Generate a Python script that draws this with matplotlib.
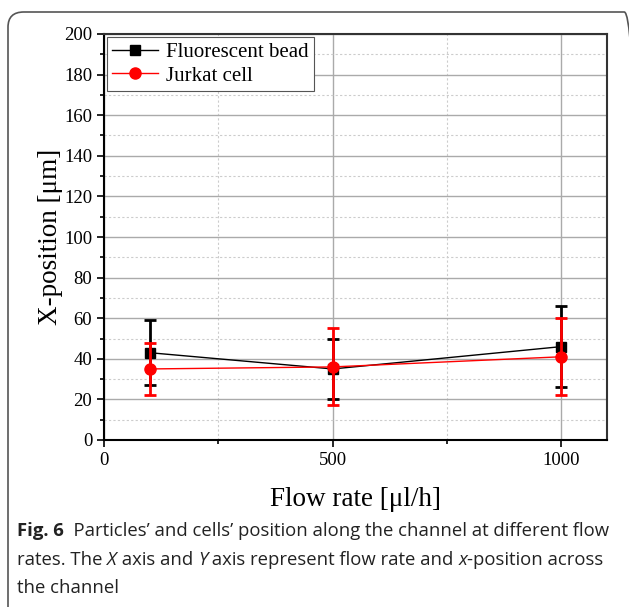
#!/usr/bin/env python3
# Particle / cell x-position vs flow rate, with figure caption
import matplotlib
matplotlib.use('Agg')
import matplotlib.pyplot as plt
import matplotlib.ticker
from matplotlib.patches import FancyBboxPatch

flow_rates = [100, 500, 1000]
bead_pos = [43, 35, 46]
bead_err = [16, 15, 20]
cell_pos = [35, 36, 41]
cell_err = [13, 19, 19]

SERIF = 'Liberation Serif'
SANS = 'Open Sans'

fig = plt.figure(figsize=(6.29, 6.07), dpi=100)
W, H = 629., 607.
ax = fig.add_axes([104 / W, 1 - 440 / H, (607 - 104) / W, (440 - 34) / H])

ax.errorbar(flow_rates, bead_pos, yerr=bead_err, color='black', marker='s', markersize=7,
            lw=1, elinewidth=2, capsize=4, capthick=2, zorder=3)
ax.errorbar(flow_rates, cell_pos, yerr=cell_err, color='red', marker='o', markersize=8,
            lw=1, elinewidth=2, capsize=4, capthick=2, zorder=4)
# legend handles without the error bars
ax.plot([], [], color='black', marker='s', markersize=7, lw=1, label='Fluorescent bead')
ax.plot([], [], color='red', marker='o', markersize=8, lw=1, label='Jurkat cell')

ax.set_xlim(0, 1100)
ax.set_ylim(0, 200)
ax.set_xticks([0, 500, 1000])
ax.set_yticks(range(0, 201, 20))
ax.xaxis.set_minor_locator(matplotlib.ticker.MultipleLocator(250))
ax.yaxis.set_minor_locator(matplotlib.ticker.MultipleLocator(10))
ax.tick_params(which='major', direction='out', length=5, width=1.2, labelsize=13.5)
ax.tick_params(which='minor', direction='out', length=3, width=1.2)
ax.grid(which='major', color='#aaaaaa', lw=1)
ax.grid(which='minor', color='#cccccc', lw=0.8, ls=(0, (2, 2)))
ax.set_axisbelow(True)
for lab in ax.get_xticklabels() + ax.get_yticklabels():
    lab.set_fontfamily(SERIF)
for s in ax.spines.values():
    s.set_linewidth(1.5)
ax.spines['right'].set_color('#333333')
ax.spines['top'].set_color('#333333')

ax.set_xlabel('Flow rate [μl/h]', fontfamily=SERIF, fontsize=19.5, labelpad=13)
ax.set_ylabel('X-position [μm]', fontfamily=SERIF, fontsize=19.5, labelpad=1)

leg = ax.legend(loc='upper left', prop={'family': SERIF, 'size': 15}, fancybox=False,
                framealpha=1, edgecolor='#555555', borderaxespad=0.15, handlelength=2.2,
                labelspacing=0.2, borderpad=0.25, handletextpad=0.4)
leg.get_frame().set_linewidth(0.8)

# rounded frame around the figure
box = FancyBboxPatch((8 / W, -0.1), (640 - 8) / W, 1.1 - 12 / H,
                     boxstyle='round,pad=0,rounding_size=0.025', transform=fig.transFigure,
                     fill=False, edgecolor='#555555', lw=1.2, clip_on=False)
fig.patches.append(box)

# caption, drawn piece by piece so bold / italic parts line up
fig.canvas.draw()
renderer = fig.canvas.get_renderer()
cap_size = 13.3
lines = [
    [('Fig. 6', 'bold', 'normal'), ('  Particles\u2019 and cells\u2019 position along the channel at different flow', 'normal', 'normal')],
    [('rates. The ', 'normal', 'normal'), ('X', 'normal', 'italic'), (' axis and ', 'normal', 'normal'),
     ('Y', 'normal', 'italic'), (' axis represent flow rate and ', 'normal', 'normal'),
     ('x', 'normal', 'italic'), ('-position across', 'normal', 'normal')],
    [('the channel', 'normal', 'normal')],
]
y_rows = [531, 560, 588]
for row, yp in zip(lines, y_rows):
    x = 17.
    for txt, weight, style in row:
        t = fig.text(x / W, 1 - yp / H, txt, fontfamily=SANS, fontsize=cap_size,
                     fontweight=weight, fontstyle=style, va='center', ha='left', color='#222222')
        bb = t.get_window_extent(renderer)
        x += bb.width

fig.savefig('out.png', dpi=100)
